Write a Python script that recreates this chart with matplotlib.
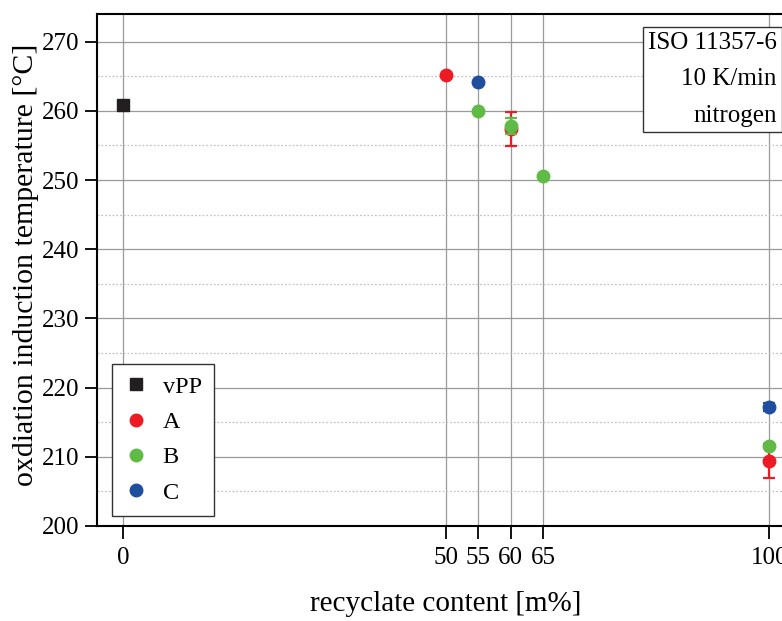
import matplotlib
matplotlib.use("Agg")
import matplotlib.pyplot as plt
from matplotlib.ticker import MultipleLocator
from matplotlib.lines import Line2D

plt.rcParams['font.family'] = ['Liberation Serif', 'DejaVu Serif']

# data
vpp_x = [0]
vpp_y = [260.9]
a_x = [50, 60, 100]
a_y = [265.2, 257.4, 209.4]
a_err = [0.0, 2.5, 2.4]
b_x = [55, 60, 65, 100]
b_y = [260.0, 257.8, 250.6, 211.6]
b_err = [0.0, 1.2, 0.0, 0.0]
c_x = [55, 100]
c_y = [264.2, 217.2]
c_err = [0.0, 0.6]
xticks = [0, 50, 55, 60, 65, 100]
yticks = [200, 210, 220, 230, 240, 250, 260, 270]
series_labels = ['vPP', 'A', 'B', 'C']

col_vpp = '#231f20'
col_a = '#ed1c24'
col_b = '#5fbb46'
col_c = '#1f4e9f'

fig = plt.figure(figsize=(7.82, 6.21), dpi=100)
ax = fig.add_axes([97/782, 95/621, 0.8926, 512/621])

ax.set_xlim(-4, 104)
ax.set_ylim(200, 274)

ax.set_xticks(xticks)
ax.set_yticks(yticks)
ax.yaxis.set_minor_locator(MultipleLocator(5))
ax.grid(True, which='major', axis='y', color='#9a9a9a', lw=0.9)
ax.grid(True, which='minor', axis='y', color='#c4c4c4', lw=0.9, ls=(0, (1.5, 1.5)))
ax.grid(True, which='major', axis='x', color='#9a9a9a', lw=0.9)
ax.set_axisbelow(True)

ax.tick_params(axis='both', which='major', direction='out', length=9, width=1.3,
               labelsize=18, color='black')
ax.tick_params(axis='x', pad=6)
ax.tick_params(axis='y', pad=4)
ax.tick_params(axis='y', which='minor', left=False)
for s in ['left', 'bottom', 'top']:
    ax.spines[s].set_linewidth(1.5)
ax.spines['right'].set_visible(False)

ms = 9
ax.plot(vpp_x, vpp_y, 's', color=col_vpp, ms=ms - 0.5, ls='none', zorder=5)
ax.errorbar(a_x, a_y, yerr=a_err, fmt='o', color=col_a, ms=ms, capsize=4, elinewidth=1.6,
            capthick=1.6, zorder=5)
ax.errorbar(b_x, b_y, yerr=b_err, fmt='o', color=col_b, ms=ms, capsize=4, elinewidth=1.6,
            capthick=1.6, zorder=6)
ax.errorbar(c_x, c_y, yerr=c_err, fmt='o', color=col_c, ms=ms, capsize=4, elinewidth=1.6,
            capthick=1.6, zorder=6)

ax.set_xlabel('recyclate content [m%]', fontsize=21, labelpad=16)
ax.set_ylabel('oxdiation induction temperature [°C]', fontsize=21.5)
ax.yaxis.set_label_coords(-0.083, 0.51)

handles = [
    Line2D([], [], marker='s', color=col_vpp, ls='none', ms=ms - 0.5),
    Line2D([], [], marker='o', color=col_a, ls='none', ms=ms),
    Line2D([], [], marker='o', color=col_b, ls='none', ms=ms),
    Line2D([], [], marker='o', color=col_c, ls='none', ms=ms),
]
leg = ax.legend(handles, series_labels, loc='lower left', bbox_to_anchor=(0.021, 0.0195),
                fontsize=17.5, frameon=True, fancybox=False, edgecolor='#333333',
                handlelength=1.0, handletextpad=0.6, labelspacing=0.55,
                borderpad=0.5, borderaxespad=0)
leg.get_frame().set_linewidth(1.0)
leg.get_frame().set_alpha(1)

ax.text(0.974, 0.965, 'ISO 11357-6\n10 K/min\nnitrogen', transform=ax.transAxes,
        ha='right', va='top', fontsize=18, linespacing=1.85,
        bbox=dict(boxstyle='square,pad=0.2', fc='white', ec='#333333', lw=1.0))

fig.savefig('out.png', dpi=100)
